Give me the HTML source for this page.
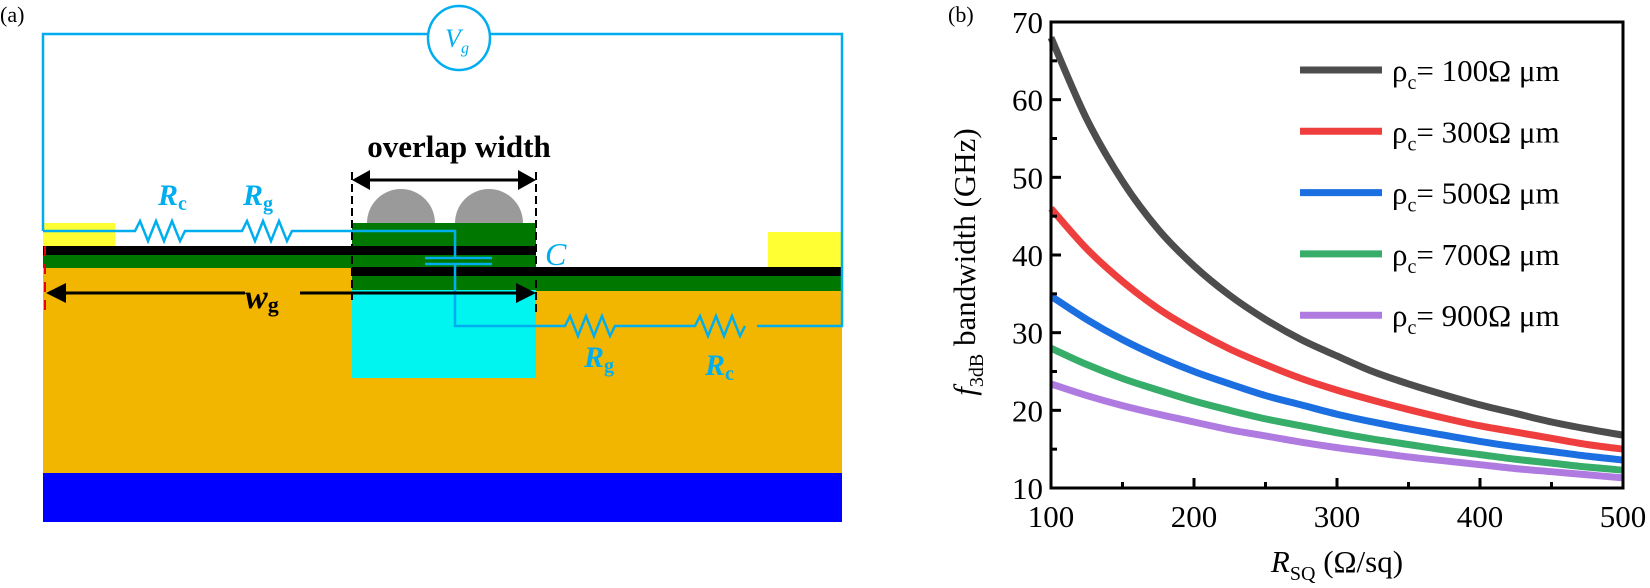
<!DOCTYPE html>
<html><head><meta charset="utf-8"><style>
html,body{margin:0;padding:0;background:#fff;}
svg{display:block;font-family:"Liberation Serif",serif;}
svg text{font-family:"Liberation Serif","Times New Roman",serif !important;}
</style></head><body>
<svg id="root" width="1650" height="588" viewBox="0 0 1650 588">
<g>
<text x="0" y="22" font-size="22">(a)</text>
<rect x="43" y="268" width="799" height="205" fill="#f2b600"/>
<rect x="43" y="473" width="799" height="49" fill="#0000ff"/>
<rect x="352" y="290" width="184" height="88" fill="#00f4f0"/>
<rect x="43" y="223" width="72" height="23" fill="#ffff33"/>
<rect x="768" y="232" width="74" height="35" fill="#ffff33"/>
<rect x="43" y="255" width="309" height="13" fill="#007800"/>
<rect x="352" y="223" width="184" height="67" fill="#007800"/>
<rect x="536" y="276" width="306" height="15" fill="#007800"/>
<rect x="43" y="246" width="493" height="9" fill="#000"/>
<rect x="352" y="267" width="490" height="9" fill="#000"/>
<path d="M367 223 A34 34 0 0 1 435 223 Z M455 223 A34 34 0 0 1 523 223 Z" fill="#9a9a9a"/>
<line x1="45" y1="246" x2="45" y2="310" stroke="#e00" stroke-width="2" stroke-dasharray="10,8"/>
<line x1="352" y1="172" x2="352" y2="300" stroke="#000" stroke-width="2" stroke-dasharray="8,4"/>
<line x1="536" y1="172" x2="536" y2="315" stroke="#000" stroke-width="2" stroke-dasharray="8,4"/>
<g stroke="#00aeef" stroke-width="2.5" fill="none">
<path d="M43 231 V34 H428 M490 34 H842 V326 H757"/>
<path d="M43 231 H135 l5 -10 l8 20 l8 -20 l8 20 l8 -20 l8 20 l5 -10 H242 l5 -10 l8 20 l8 -20 l8 20 l8 -20 l8 20 l5 -10 H455 V258"/>
<path d="M425 258 H492 M425 264 H492"/>
<path d="M455 264 V326 H565 l5 -10 l8 20 l8 -20 l8 20 l8 -20 l8 20 l5 -10 H695 l5 -10 l8 20 l8 -20 l8 20 l8 -20 l8 20 l5 -10"/>
<ellipse cx="459" cy="38" rx="31" ry="32"/>
</g>
<text x="457" y="47" font-size="26" font-style="italic" fill="#00aeef" text-anchor="middle">V<tspan font-size="16" dy="6">g</tspan></text>
<text x="459" y="157" font-size="31" font-weight="bold" text-anchor="middle">overlap width</text>
<g><line x1="362" y1="180" x2="526" y2="180" stroke="#000" stroke-width="3"/><path d="M352 180 L370 170 L370 190Z M536 180 L518 170 L518 190Z"/></g>
<g><line x1="55" y1="293" x2="245" y2="293" stroke="#000" stroke-width="3"/><line x1="300" y1="293" x2="526" y2="293" stroke="#000" stroke-width="3"/><path d="M46 293 L66 283 L66 303Z M536 293 L516 283 L516 303Z"/></g>
<text x="245" y="308" font-size="34" font-weight="bold" font-style="italic">w<tspan font-size="22" font-style="normal" dy="4">g</tspan></text>
<g fill="#00aeef" font-weight="bold" font-size="30" font-style="italic">
<text x="158" y="205">R<tspan font-size="20" font-style="normal" dy="5">c</tspan></text>
<text x="243" y="205">R<tspan font-size="20" font-style="normal" dy="5">g</tspan></text>
<text x="584" y="367">R<tspan font-size="20" font-style="normal" dy="5">g</tspan></text>
<text x="705" y="375">R<tspan font-size="20" font-style="normal" dy="5">c</tspan></text>
</g>
<text x="545" y="265" font-size="32" font-style="italic" fill="#00aeef">C</text>
</g>
<g id="chart">
<text x="948" y="22" font-size="22">(b)</text>
</g>
</svg>
<script>
const xTicks=[100,200,300,400,500];
const yTicks=[10,20,30,40,50,60,70];
const rsq=[100,125,150,175,200,225,250,275,300,325,350,375,400,425,450,475,500];
const s100=[68,57.5,49.5,43.3,38.6,34.8,31.7,29.1,27,25,23.4,22,20.7,19.6,18.5,17.6,16.8];
const s300=[46,40.8,36.6,33.1,30.3,27.9,25.9,24.1,22.6,21.3,20.1,19,18,17.2,16.4,15.6,15];
const s500=[34.7,31.7,29.1,26.9,25,23.4,21.9,20.7,19.5,18.5,17.6,16.8,16,15.3,14.7,14.1,13.6];
const s700=[28,25.9,24.1,22.6,21.2,20,18.9,18,17.1,16.3,15.6,14.9,14.3,13.7,13.2,12.7,12.3];
const s900=[23.4,21.9,20.6,19.5,18.5,17.5,16.7,15.9,15.2,14.6,14,13.5,13,12.5,12.1,11.7,11.3];
const seriesLabels=["100","300","500","700","900"];
const colors=["#4d4d4d","#ef3e3e","#1b6fe0","#37ad6a","#b07be0"];
const NS="http://www.w3.org/2000/svg";
const L=1051,R=1623,T=22,B=488;
const xs=v=>L+(v-100)/400*(R-L);
const ys=v=>B-(v-10)/60*(B-T);
const g=document.getElementById('chart');
function mk(t,a){const e=document.createElementNS(NS,t);for(const k in a)e.setAttribute(k,a[k]);if(t==='text')e.style.fontFamily='"Liberation Serif", serif';g.appendChild(e);return e;}
function sub(t,parts){parts.forEach(p=>{const s=document.createElementNS(NS,'tspan');for(const k in p.a)s.setAttribute(k,p.a[k]);s.textContent=p.t;t.appendChild(s);});}
const allS=[s100,s300,s500,s700,s900];
const names=['series-rho-100','series-rho-300','series-rho-500','series-rho-700','series-rho-900'];
allS.forEach((s,i)=>{
  const p=rsq.map((x,j)=>[xs(x),ys(s[j])]);
  let d='M'+p[0][0]+' '+p[0][1];
  for(let j=0;j<p.length-1;j++){
    const p0=p[Math.max(j-1,0)],p1=p[j],p2=p[j+1],p3=p[Math.min(j+2,p.length-1)];
    const c1=[p1[0]+(p2[0]-p0[0])/6,p1[1]+(p2[1]-p0[1])/6];
    const c2=[p2[0]-(p3[0]-p1[0])/6,p2[1]-(p3[1]-p1[1])/6];
    d+=` C${c1[0]} ${c1[1]} ${c2[0]} ${c2[1]} ${p2[0]} ${p2[1]}`;
  }
  const e=mk('path',{d:d,fill:'none',stroke:colors[i],'stroke-width':7});
  
  
  const yl=70+i*61.3;
  const ln=mk('line',{x1:1300,x2:1382,y1:yl,y2:yl,stroke:colors[i],'stroke-width':7});
  
  
  const t=mk('text',{x:1392,y:yl+11,'font-size':31});
  
  
  sub(t,[{t:'ρ',a:{}},{t:'c',a:{'font-size':20,dy:8}},{t:'= '+seriesLabels[i]+'Ω μm',a:{dy:-8}}]);
});
const fr=mk('rect',{x:L,y:T,width:R-L,height:B-T,fill:'none',stroke:'#000','stroke-width':3});


xTicks.forEach(v=>{
  const tk=mk('line',{x1:xs(v),x2:xs(v),y1:B,y2:B-10,stroke:'#000','stroke-width':3});
  
  
  if(v<500){const m=mk('line',{x1:xs(v+50),x2:xs(v+50),y1:B,y2:B-6,stroke:'#000','stroke-width':3});
  
  }
  const t=mk('text',{x:xs(v),y:B+39,'font-size':31,'text-anchor':'middle'});t.textContent=v;
  
  
});
yTicks.forEach(v=>{
  const tk=mk('line',{x1:L,x2:L+10,y1:ys(v),y2:ys(v),stroke:'#000','stroke-width':3});
  
  
  if(v<70){const m=mk('line',{x1:L,x2:L+6,y1:ys(v+5),y2:ys(v+5),stroke:'#000','stroke-width':3});
  
  }
  const t=mk('text',{x:L-8,y:ys(v)+11,'font-size':31,'text-anchor':'end'});t.textContent=v;
  
  
});
const xt=mk('text',{x:1337,y:572,'font-size':31,'text-anchor':'middle'});


sub(xt,[{t:'R',a:{'font-style':'italic'}},{t:'SQ',a:{'font-size':20,dy:8}},{t:' (Ω/sq)',a:{dy:-8}}]);
const yt=mk('text',{x:0,y:0,'font-size':31,'text-anchor':'middle',transform:'translate(975,262) rotate(-90)'});


sub(yt,[{t:'f',a:{'font-style':'italic'}},{t:'3dB',a:{'font-size':20,dy:8}},{t:' bandwidth (GHz)',a:{dy:-8}}]);
</script>
</body></html>
